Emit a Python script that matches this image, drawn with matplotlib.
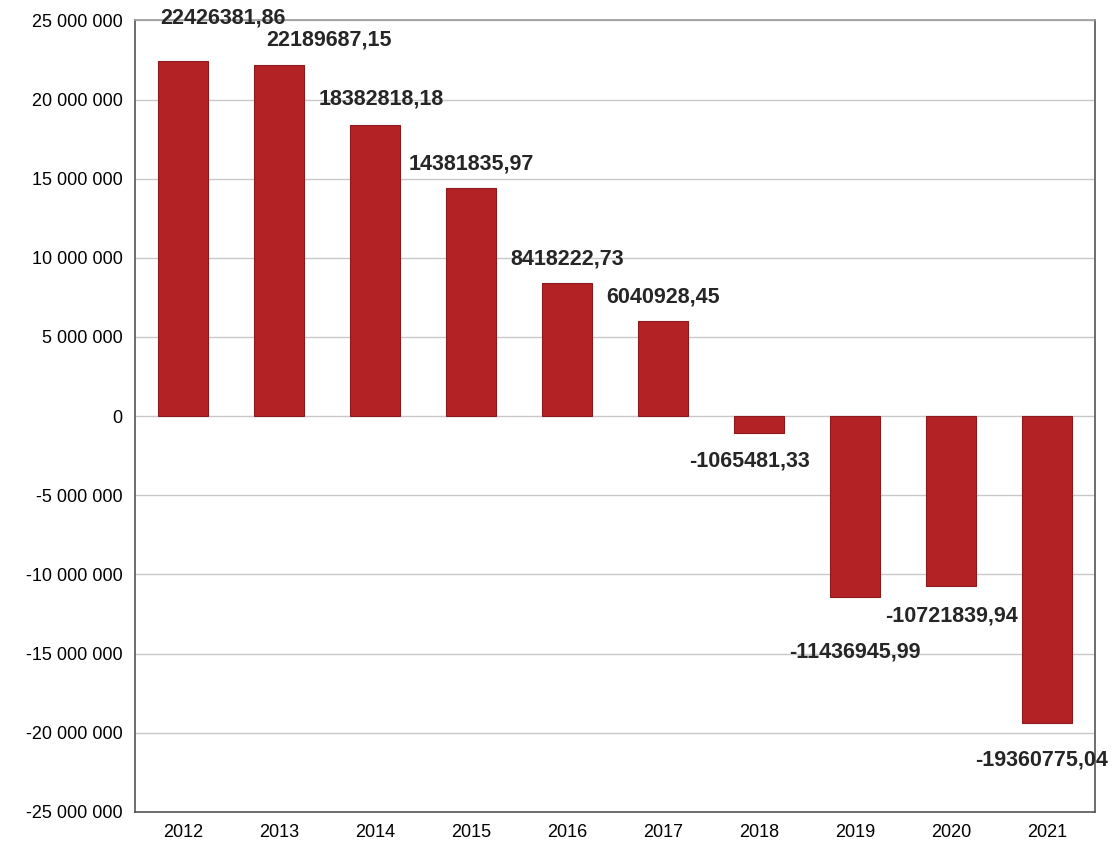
import matplotlib.pyplot as plt
from matplotlib.ticker import FuncFormatter

plt.rcParams["font.family"] = ["Liberation Sans", "DejaVu Sans"]

years = ["2012", "2013", "2014", "2015", "2016", "2017", "2018", "2019", "2020", "2021"]
values = [22426381.86, 22189687.15, 18382818.18, 14381835.97, 8418222.73,
          6040928.45, -1065481.33, -11436945.99, -10721839.94, -19360775.04]
labels = ["22426381,86", "22189687,15", "18382818,18", "14381835,97", "8418222,73",
          "6040928,45", "-1065481,33", "-11436945,99", "-10721839,94", "-19360775,04"]

# label offsets in pixels (dx, dy) relative to bar end, as in the scan
offsets = [(40, 43), (50, 25), (6, 26), (0, 24), (0, 24),
           (0, 24), (-10, -28), (0, -55), (0, -30), (-5, -37)]

fig = plt.figure(figsize=(11.19, 8.48), dpi=100)
ax = fig.add_axes([0.1206, 0.0425, 0.8580, 0.9335])

x = range(len(years))
ax.bar(x, values, width=0.52, color="#b32326", edgecolor="#8a1a1c", linewidth=0.8, zorder=3)

for i, (v, lab) in enumerate(zip(values, labels)):
    dx, dy = offsets[i]
    ax.annotate(lab, (i, v), xytext=(dx * 0.72, dy * 0.72), textcoords="offset points",
                ha="center", va="center", fontsize=15.5, fontweight="bold",
                color="#262626", zorder=5)

ax.set_ylim(-25000000, 25000000)
ax.set_xlim(-0.5, 9.5)
ax.set_yticks(range(-25000000, 25000001, 5000000))
ax.yaxis.set_major_formatter(FuncFormatter(lambda v, p: f"{int(v):,}".replace(",", " ")))
ax.set_xticks(list(x))
ax.set_xticklabels(years)
ax.tick_params(axis="both", length=0, labelsize=13, pad=9)

ax.grid(axis="y", color="#c8c8c8", linewidth=1, zorder=0)
for s in ax.spines.values():
    s.set_color("#555555")
    s.set_linewidth(1.2)
ax.spines["top"].set_color("#999999")

fig.savefig("out.png", dpi=100)
